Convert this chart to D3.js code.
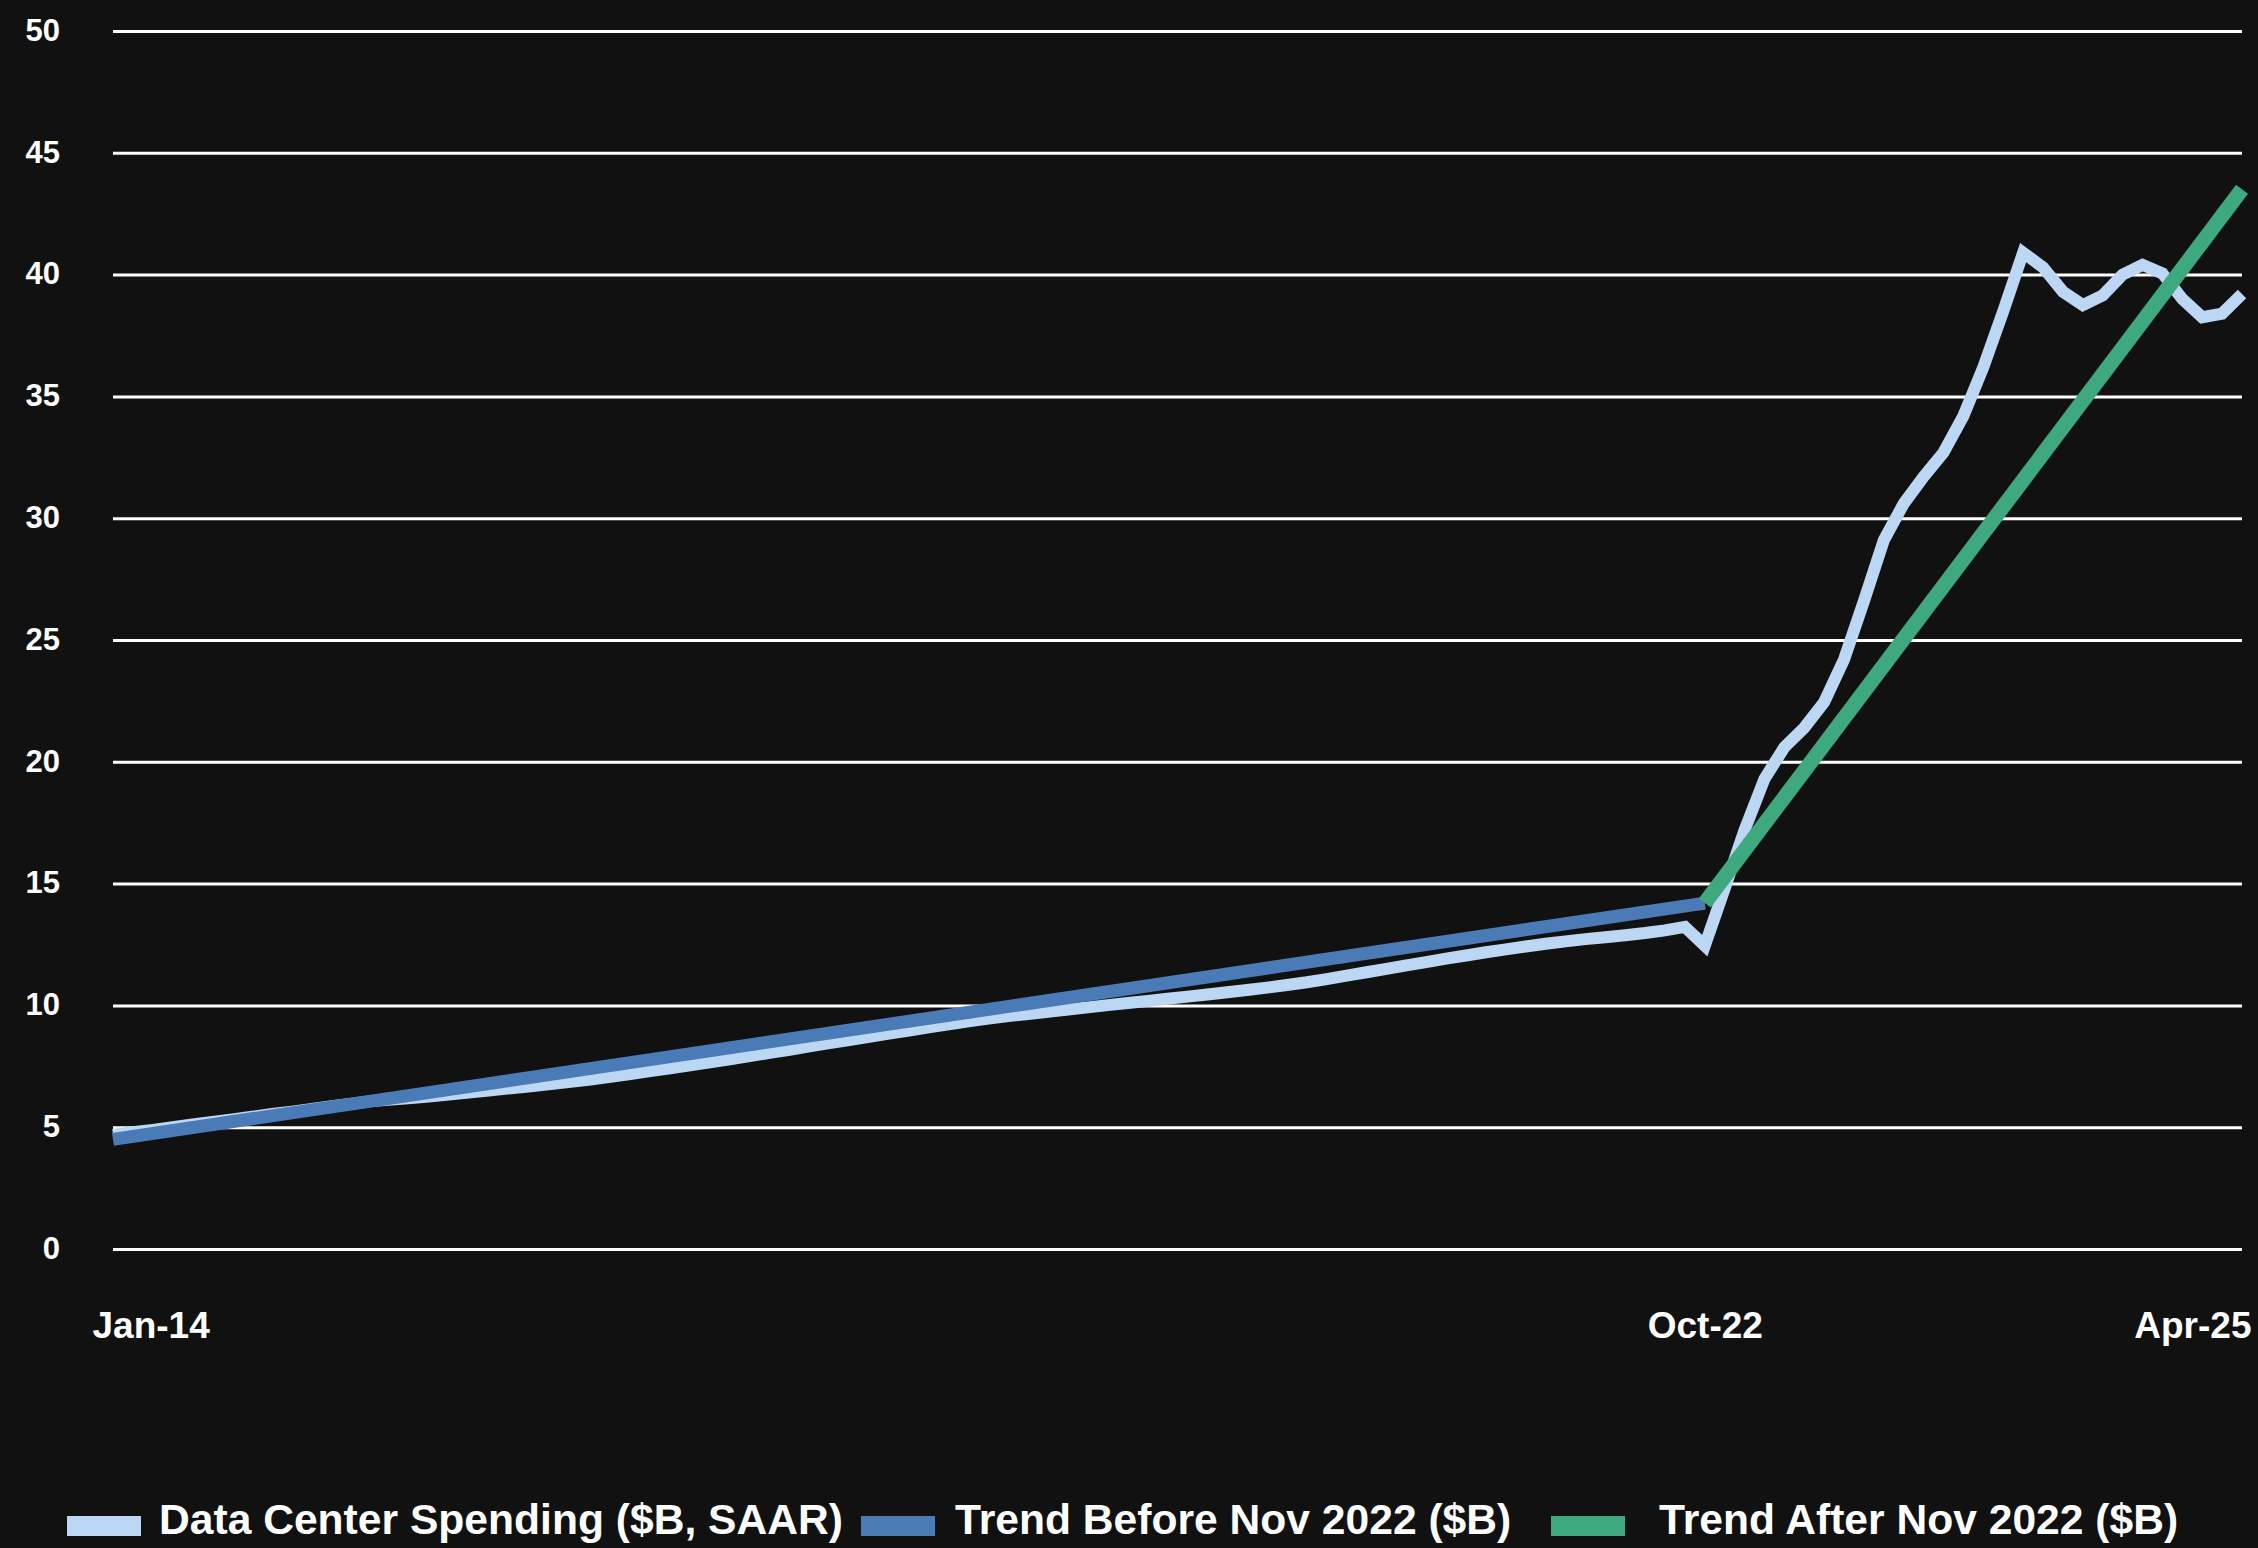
<!DOCTYPE html>
<html>
  <head>
    <meta charset="utf-8" />
    <script src="https://d3js.org/d3.v7.min.js"></script>
    <style>
        body {margin: 0; background: #111111;}
        text {font-family: "Liberation Sans", Arial, sans-serif; font-weight: bold; fill: #ffffff;}
    </style>
  </head>
  <body>

    <svg id="viz"></svg>

    <script>
        var width = 2258
        var height = 1548

        // data center spending, one value per point, Jan-14 .. Apr-25
        var spending = [
            4.68, 4.79, 4.89, 5.0, 5.11, 5.22, 5.32, 5.43, 5.54, 5.64,
            5.75, 5.86, 5.96, 6.07, 6.14, 6.2, 6.27, 6.35, 6.43, 6.52,
            6.6, 6.68, 6.77, 6.86, 6.96, 7.07, 7.18, 7.3, 7.42, 7.54,
            7.66, 7.79, 7.92, 8.05, 8.18, 8.32, 8.45, 8.58, 8.71, 8.84,
            8.97, 9.1, 9.22, 9.35, 9.46, 9.56, 9.65, 9.74, 9.83, 9.92,
            10.01, 10.1, 10.18, 10.27, 10.36, 10.45, 10.54, 10.63, 10.73, 10.84,
            10.95, 11.08, 11.22, 11.36, 11.5, 11.64, 11.78, 11.92, 12.05, 12.18,
            12.3, 12.42, 12.53, 12.63, 12.72, 12.8, 12.88, 12.97, 13.08, 13.22,
            12.45, 14.8, 17.2, 19.3, 20.6, 21.4, 22.45, 24.2, 26.6, 29.1,
            30.6, 31.7, 32.7, 34.2, 36.2, 38.5, 40.9, 40.3, 39.3, 38.75,
            39.15, 40.0, 40.4, 40.05, 39.0, 38.25, 38.4, 39.2
        ]

        // trend lines, two end points each (point index, value)
        var trendBeforeIdx = [0, 80]
        var trendBefore = [4.5, 14.2]
        var trendAfterIdx = [80, 107]
        var trendAfter = [14.2, 43.5]

        var yTicks = [0, 5, 10, 15, 20, 25, 30, 35, 40, 45, 50]
        var xTickIdx = [0, 80, 107]
        var xTickLabels = ["Jan-14", "Oct-22", "Apr-25"]

        var seriesNames = ["Data Center Spending ($B, SAAR)", "Trend Before Nov 2022 ($B)", "Trend After Nov 2022 ($B)"]
        var seriesColors = ["#bcd7f4", "#4a7bb6", "#3ea97e"]

        // plot box (window.top is taken, so prefixed names)
        var plotLeft = 113, plotRight = 2242, plotTop = 31, plotBottom = 1249

        var svg = d3.select("#viz")
            .attr("width", width)
            .attr("height", height);

        svg.append("rect")
            .attr("width", width)
            .attr("height", height)
            .attr("fill", "#111111");

        var x = d3.scaleLinear().domain([0, spending.length - 1]).range([plotLeft, plotRight])
        var y = d3.scaleLinear().domain([0, 50]).range([plotBottom, plotTop])

        // y axis: white gridlines across the plot, labels on the left
        var yAxis = svg.append("g")
            .attr("transform", "translate(" + plotLeft + ",0)")
            .call(d3.axisLeft(y).tickValues(yTicks).tickSize(-(plotRight - plotLeft)).tickPadding(53));

        yAxis.select(".domain").remove();
        yAxis.selectAll("line")
            .attr("stroke", "#ffffff")
            .attr("stroke-width", 3);
        yAxis.selectAll("text")
            .attr("font-size", 31)
            .attr("dy", "0.3em")
            .style("font-family", "'Liberation Sans', Arial, sans-serif")
            .style("font-weight", "bold")
            .attr("fill", "#ffffff");

        // x axis: only three labels
        var xAxis = svg.append("g")
            .attr("transform", "translate(0," + plotBottom + ")")
            .call(d3.axisBottom(x).tickValues(xTickIdx)
                .tickFormat(function(d, i) { return xTickLabels[i]; })
                .tickSize(0).tickPadding(0));

        xAxis.select(".domain").remove();
        xAxis.selectAll("text")
            .attr("font-size", 37)
            .attr("y", 89)
            .attr("dy", 0)
            .style("font-family", "'Liberation Sans', Arial, sans-serif")
            .style("font-weight", "bold")
            .attr("fill", "#ffffff")
            .attr("text-anchor", function(d, i) {
                return i === 0 ? "start" : (i === xTickIdx.length - 1 ? "end" : "middle");
            })
            .attr("dx", function(d, i) {
                return i === 0 ? -21 : (i === xTickIdx.length - 1 ? 9 : 0);
            });

        var line = d3.line()
            .x(function(d) { return x(d[0]); })
            .y(function(d) { return y(d[1]); });

        var spendPts = spending.map(function(v, i) { return [i, v]; })
        var beforePts = trendBefore.map(function(v, i) { return [trendBeforeIdx[i], v]; })
        var afterPts = trendAfter.map(function(v, i) { return [trendAfterIdx[i], v]; })

        // drawing order: spending under, trends on top
        svg.append("path")
            .attr("d", line(spendPts))
            .attr("fill", "none")
            .attr("stroke", seriesColors[0])
            .attr("stroke-width", 12)
            .attr("stroke-linejoin", "miter");

        svg.append("path")
            .attr("d", line(beforePts))
            .attr("fill", "none")
            .attr("stroke", seriesColors[1])
            .attr("stroke-width", 13);

        svg.append("path")
            .attr("d", line(afterPts))
            .attr("fill", "none")
            .attr("stroke", seriesColors[2])
            .attr("stroke-width", 15);

        // legend along the bottom
        var legendX = [67, 861, 1551]
        var legendTextX = [159, 955, 1659]

        var legend = svg.append("g");
        seriesNames.forEach(function(name, i) {
            legend.append("rect")
                .attr("x", legendX[i])
                .attr("y", 1516)
                .attr("width", 74)
                .attr("height", 20)
                .attr("fill", seriesColors[i]);
            legend.append("text")
                .attr("x", legendTextX[i])
                .attr("y", 1534)
                .attr("font-size", 42.6)
                .text(name);
        });
    </script>

  </body>
</html>
